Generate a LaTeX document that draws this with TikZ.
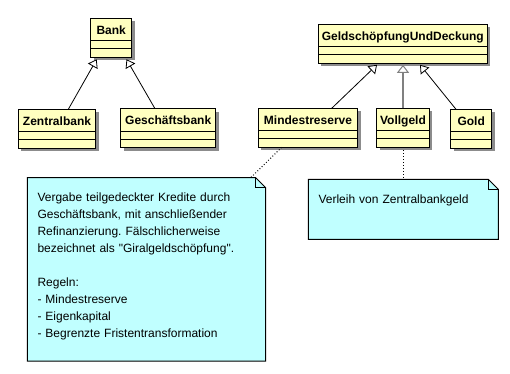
\documentclass[tikz,border=0pt]{standalone}
\usepackage{fontspec}
\setmainfont{Liberation Sans}
\newfontfamily\rawfont{Liberation Sans}
\frenchspacing
\usetikzlibrary{arrows.meta,calc,shadows}
\definecolor{classfill}{RGB}{255,255,192}
\definecolor{notefill}{RGB}{192,255,255}
\definecolor{shadowgray}{RGB}{140,140,140}
\definecolor{linegray}{RGB}{128,128,128}
\tikzset{
  classbox/.style={draw=black, line width=1pt, fill=classfill, anchor=north west,
    minimum height=39pt, inner sep=0pt, outer sep=0pt,
    drop shadow={shadow xshift=3pt, shadow yshift=-3pt, fill=shadowgray, opacity=1}},
  classname/.style={anchor=base, inner sep=0pt, font=\bfseries\fontsize{12}{14}\selectfont},
  sepline/.style={draw=black, line width=1pt},
  gen/.style={draw=black, line width=0.8pt,
    -{Triangle[length=8pt, width=11pt, fill=white, line width=0.8pt]}},
  genthick/.style={draw=linegray, line width=2pt,
    -{Triangle[length=8pt, width=12pt, fill=white, line width=1pt]}},
  notearea/.style={draw=none, fill=none, anchor=north west, inner sep=0pt, outer sep=0pt},
  noteshape/.style={draw=black, line width=1pt, fill=notefill, line join=miter},
  notetext/.style={anchor=base west, inner sep=0pt, align=left, text width=228pt,
    font=\fontsize{12}{17}\selectfont},
  noteline/.style={draw=black, line width=1pt, dash pattern=on 1pt off 2pt}
}
\newcommand\umlsep[1]{%
  \draw[sepline] ([yshift=-22.4pt]#1.north west) -- ([yshift=-22.4pt]#1.north east)
                 ([yshift=-30.4pt]#1.north west) -- ([yshift=-30.4pt]#1.north east);}
\newcommand\umlnote[1]{%
  \draw[noteshape] (#1.north west) -- ([xshift=-10pt]#1.north east)
    -- ([yshift=-10pt]#1.north east) -- (#1.south east) -- (#1.south west) -- cycle;
  \draw[black, line width=1pt] ([xshift=-10pt]#1.north east)
    -- ([xshift=-10pt,yshift=-10pt]#1.north east) -- ([yshift=-10pt]#1.north east);}
\begin{document}
\begin{tikzpicture}[x=1pt, y=-1pt]
\useasboundingbox (0,0) rectangle (510,373);

% classes
\node[classbox, minimum width=41pt]   (bank)    at (90.7,18.3)  {};
\node[classbox, minimum width=77.4pt] (zentral) at (18.3,109.3) {};
\node[classbox, minimum width=95pt]   (gesch)   at (120.7,108.7) {};
\node[classbox, minimum width=169pt]  (geld)    at (318.3,24.3) {};
\node[classbox, minimum width=99.4pt] (minde)   at (258.3,108.3) {};
\node[classbox, minimum width=52.6pt] (voll)    at (376.7,108.3) {};
\node[classbox, minimum width=41pt]   (gold)    at (450.7,109.3) {};

\umlsep{bank}\umlsep{zentral}\umlsep{gesch}\umlsep{geld}
\umlsep{minde}\umlsep{voll}\umlsep{gold}

\node[classname] (bankT)    at ($(bank.north)+(0,16)$)    {Bank};
\node[classname] (zentralT) at ($(zentral.north)+(0,16)$) {Zentralbank};
\node[classname] (geschT)   at ($(gesch.north)+(0,16)$)   {Geschäftsbank};
\node[classname] (geldT)    at ($(geld.north)+(0,16)$)    {GeldschöpfungUndDeckung};
\node[classname] (mindeT)   at ($(minde.north)+(0,16)$)   {Mindestreserve};
\node[classname] (vollT)    at ($(voll.north)+(0,16)$)    {Vollgeld};
\node[classname] (goldT)    at ($(gold.north)+(0,16)$)    {Gold};

% generalizations
\draw[gen] ([xshift=11.3pt]zentral.north) -- ([xshift=-14.5pt,yshift=-2pt]bank.south);
\draw[gen] ([xshift=-13.2pt]gesch.north) -- ([xshift=15.3pt,yshift=-2pt]bank.south);
\draw[gen] ([xshift=23.7pt]minde.north) -- ([xshift=-25.8pt,yshift=-1.5pt]geld.south);
\draw[genthick] (voll.north) -- ($(geld.south -| voll.north)+(0,1.5)$);
\draw[gen] ([xshift=-15.2pt]gold.north) -- ([xshift=17.2pt,yshift=-1.5pt]geld.south);

% notes
\node[notearea, minimum width=238.4pt, minimum height=183.3pt] (note1) at (27.3,177.7) {};
\node[notearea, minimum width=190pt, minimum height=60pt] (note2) at (308.3,179.3) {};
\umlnote{note1}\umlnote{note2}

\node[notetext] (note1T) at (37.3,201.5) {Vergabe teilgedeckter Kredite durch\\
Geschäftsbank, mit anschließender\\
Refinanzierung. Fälschlicherweise\\
bezeichnet als {\rawfont"}Giralgeldschöpfung{\rawfont"}.\\[17pt]
Regeln:\\
- Mindestreserve\\
- Eigenkapital\\
- Begrenzte Fristentransformation};
\node[notetext, text width=170pt] (note2T) at (318.3,203) {Verleih von Zentralbankgeld};

% note links
\draw[noteline] ([xshift=-26.3pt]minde.south) -- ([xshift=-15pt]note1.north east);
\draw[noteline] (voll.south) -- (voll.south |- note2.north);
\end{tikzpicture}
\end{document}
